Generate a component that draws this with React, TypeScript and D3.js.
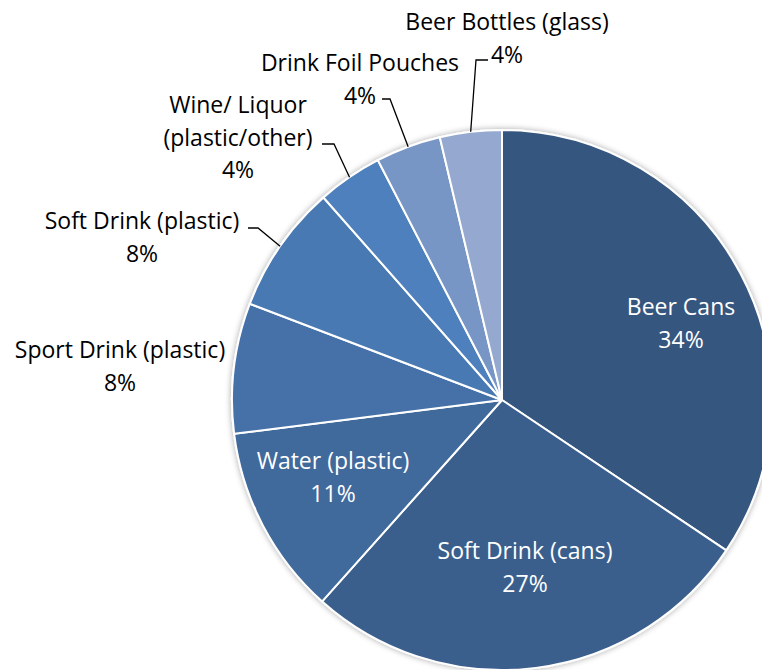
import React from "react";
import * as d3 from "d3";

const categories = [
  "Beer Cans",
  "Soft Drink (cans)",
  "Water (plastic)",
  "Sport Drink (plastic)",
  "Soft Drink (plastic)",
  "Wine/ Liquor (plastic/other)",
  "Drink Foil Pouches",
  "Beer Bottles (glass)",
];
const values = [34.4, 27.2, 11.4, 7.8, 7.7, 3.9, 3.9, 3.7];
const colors = ["#34567f", "#3b5e8d", "#3f699c", "#4471a8", "#4879b3", "#4e80bd", "#7795c5", "#95a9d0"];

// label layout (text lines, centre x, first baseline, leader elbow/end)
const labelLines = [
  ["Beer Cans"],
  ["Soft Drink (cans)"],
  ["Water (plastic)"],
  ["Sport Drink (plastic)"],
  ["Soft Drink (plastic)"],
  ["Wine/ Liquor", "(plastic/other)"],
  ["Drink Foil Pouches"],
  ["Beer Bottles (glass)"],
];

const W = 762, H = 670;
const cx = 502, cy = 400, R = 270;
const lineH = 32.5;

type Layout = { x: number; y: number; inside: boolean; leader?: [number, number][] };
const layout: Layout[] = [
  { x: 681, y: 315, inside: true },
  { x: 525, y: 559, inside: true },
  { x: 333, y: 469, inside: true },
  { x: 120, y: 358, inside: false },
  { x: 142, y: 229, inside: false, leader: [[258, 228], [248, 228]] },
  { x: 238, y: 113, inside: false, leader: [[334, 144], [322, 144]] },
  { x: 360, y: 71, inside: false, leader: [[390, 99], [382, 99]] },
  { x: 507, y: 30, inside: false, leader: [[476, 60], [488, 60]] },
];

export default function App() {
  const data = categories.map((c, i) => ({ c, v: values[i], i }));
  const total = d3.sum(values);
  const pie = d3.pie<any>().value((d) => d.v).sort(null);
  const arcs = pie(data);
  const arc = d3.arc<any>().innerRadius(0).outerRadius(R);
  const edgeArc = d3.arc<any>().innerRadius(R).outerRadius(R);
  const font = "'Open Sans', 'DejaVu Sans', sans-serif";
  const fs = 23;

  return (
    <svg width={W} height={H} style={{ position: "absolute", left: 0, top: 0 }}>
      <defs>
        <filter id="sh" x="-10%" y="-10%" width="120%" height="120%">
          <feGaussianBlur in="SourceAlpha" stdDeviation="3" result="b" />
          <feOffset in="b" dx="0" dy="0" result="o" />
          <feComponentTransfer in="o" result="s">
            <feFuncA type="linear" slope="0.35" />
          </feComponentTransfer>
          <feMerge>
            <feMergeNode in="s" />
            <feMergeNode in="SourceGraphic" />
          </feMerge>
        </filter>
      </defs>
      <rect width={W} height={H} fill="#ffffff" />
      <g transform={`translate(${cx},${cy})`} filter="url(#sh)">
        {arcs.map((a, i) => (
          <path key={i} d={arc(a) as string} fill={colors[i]} stroke="#ffffff" strokeWidth={2} strokeLinejoin="round" />
        ))}
      </g>
      {arcs.map((a, i) => {
        const L = layout[i];
        if (!L.leader) return null;
        const [ex, ey] = edgeArc.centroid(a);
        const pts: [number, number][] = [[cx + ex, cy + ey], ...L.leader];
        return (
          <path key={"l" + i} d={d3.line()(pts) as string} fill="none" stroke="#000000" strokeWidth={1.3} />
        );
      })}
      {arcs.map((a, i) => {
        const L = layout[i];
        const pct = Math.round((values[i] / total) * 100) + "%";
        const lines = [...labelLines[i], pct];
        return (
          <text
            key={"t" + i}
            x={L.x}
            y={L.y}
            textAnchor="middle"
            fontFamily={font}
            fontSize={fs}
            fill={L.inside ? "#ffffff" : "#000000"}
          >
            {lines.map((t, j) => (
              <tspan key={j} x={L.x} y={L.y + j * lineH}>
                {t}
              </tspan>
            ))}
          </text>
        );
      })}
    </svg>
  );
}
